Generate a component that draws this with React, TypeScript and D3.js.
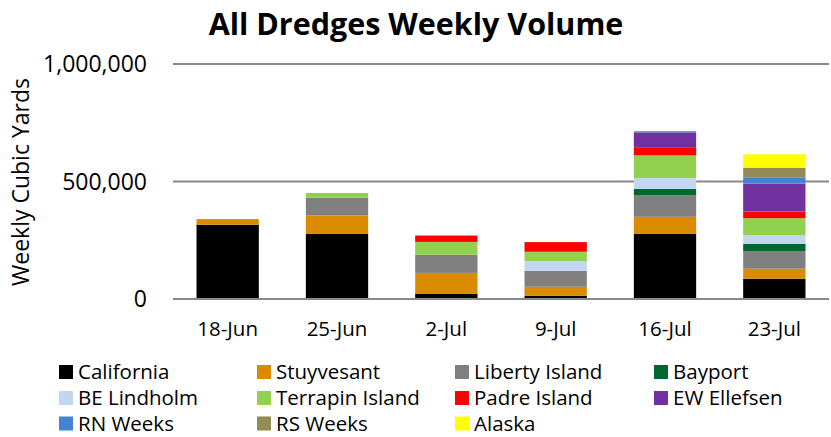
import * as d3 from "d3";

// weeks on the x axis
const weeks = ["18-Jun", "25-Jun", "2-Jul", "9-Jul", "16-Jul", "23-Jul"];

// dredges, bottom of stack first
const dredges = [
  "California",
  "Stuyvesant",
  "Liberty Island",
  "Bayport",
  "BE Lindholm",
  "Terrapin Island",
  "Padre Island",
  "EW Ellefsen",
  "RN Weeks",
  "RS Weeks",
  "Alaska",
];

const dredgeColors = [
  "#000000",
  "#DA8B00",
  "#808080",
  "#00672F",
  "#C3D6EF",
  "#92D050",
  "#FF0000",
  "#7030A0",
  "#4483D3",
  "#948A54",
  "#FFFF00",
];

// weekly cubic yards per dredge
const california = [316000, 278000, 23000, 14000, 278000, 86000];
const stuyvesant = [24000, 78000, 88000, 38000, 72000, 43000];
const libertyIsland = [0, 75000, 77000, 68000, 92000, 75000];
const bayport = [0, 0, 0, 0, 26000, 31000];
const beLindholm = [0, 0, 0, 41000, 47000, 37000];
const terrapinIsland = [0, 20000, 55000, 40000, 96000, 72000];
const padreIsland = [0, 0, 27000, 41000, 35000, 28000];
const ewEllefsen = [0, 0, 0, 0, 63000, 119000];
const rnWeeks = [0, 0, 0, 0, 5000, 27000];
const rsWeeks = [0, 0, 0, 0, 0, 41000];
const alaska = [0, 0, 0, 0, 0, 57000];

const yTicks = [0, 500000, 1000000];

const seriesValues = [
  california,
  stuyvesant,
  libertyIsland,
  bayport,
  beLindholm,
  terrapinIsland,
  padreIsland,
  ewEllefsen,
  rnWeeks,
  rsWeeks,
  alaska,
];

const width = 831;
const height = 437;
const font = "'Open Sans', 'Liberation Sans', sans-serif";

export default function App() {
  const margin = { top: 64, right: 2, bottom: 138, left: 173 };
  const innerWidth = width - margin.left - margin.right;
  const innerHeight = height - margin.top - margin.bottom;

  // one row per week for d3.stack
  const table = weeks.map((week, i) => {
    const row: Record<string, number | string> = { week };
    dredges.forEach((name, j) => {
      row[name] = seriesValues[j][i];
    });
    return row;
  });

  const stacked = d3.stack<Record<string, number | string>>().keys(dredges)(table);

  const xScale = d3
    .scaleBand<string>()
    .domain(weeks)
    .range([0, innerWidth])
    .paddingInner(0.43)
    .paddingOuter(0.215);

  const yScale = d3.scaleLinear().domain([0, 1000000]).range([innerHeight, 0]);
  const fmt = d3.format(",");

  // legend: 4 columns, 3 rows
  const legendCols = [59, 257, 455, 654];
  const legendRows = [372, 398, 423.5];

  return (
    <svg
      width={width}
      height={height}
      style={{ position: "absolute", left: 0, top: 0, background: "#fff" }}
      fontFamily={font}
    >
      <text
        x={416}
        y={35}
        textAnchor="middle"
        fontSize={30.5}
        fontWeight="bold"
        fill="#000"
      >
        All Dredges Weekly Volume
      </text>

      <text
        transform={`translate(29,${182}) rotate(-90)`}
        textAnchor="middle"
        fontSize={23}
        fill="#000"
      >
        Weekly Cubic Yards
      </text>

      <g transform={`translate(${margin.left},${margin.top})`}>
        {/* grid lines */}
        {yTicks.map((t) => (
          <line
            key={t}
            x1={0}
            x2={innerWidth}
            y1={yScale(t)}
            y2={yScale(t)}
            stroke="#898989"
            strokeWidth={2}
          />
        ))}
        {yTicks.map((t) => (
          <text
            key={"l" + t}
            x={-26}
            y={yScale(t)}
            dy="0.36em"
            textAnchor="end"
            fontSize={23}
            fill="#000"
          >
            {fmt(t)}
          </text>
        ))}

        {/* stacked bars */}
        {stacked.map((layer, j) => (
          <g key={layer.key} fill={dredgeColors[j]}>
            {layer.map((d, i) =>
              d[1] - d[0] > 0 ? (
                <rect
                  key={i}
                  x={xScale(weeks[i])}
                  y={yScale(d[1])}
                  width={xScale.bandwidth()}
                  height={yScale(d[0]) - yScale(d[1])}
                />
              ) : null
            )}
          </g>
        ))}

        {/* re-draw baseline over bars */}
        <line
          x1={0}
          x2={innerWidth}
          y1={yScale(0)}
          y2={yScale(0)}
          stroke="#898989"
          strokeWidth={2}
        />

        {weeks.map((w) => (
          <text
            key={w}
            x={(xScale(w) ?? 0) + xScale.bandwidth() / 2}
            y={innerHeight + 37}
            textAnchor="middle"
            fontSize={20.5}
            fill="#000"
          >
            {w}
          </text>
        ))}
      </g>

      {/* legend */}
      {dredges.map((name, j) => {
        const col = j % 4;
        const row = Math.floor(j / 4);
        const x = legendCols[col];
        const y = legendRows[row];
        return (
          <g key={name}>
            <rect x={x} y={y - 7} width={14} height={14} fill={dredgeColors[j]} />
            <text x={x + 19} y={y} dy="0.36em" fontSize={20.5} fill="#000">
              {name}
            </text>
          </g>
        );
      })}
    </svg>
  );
}
